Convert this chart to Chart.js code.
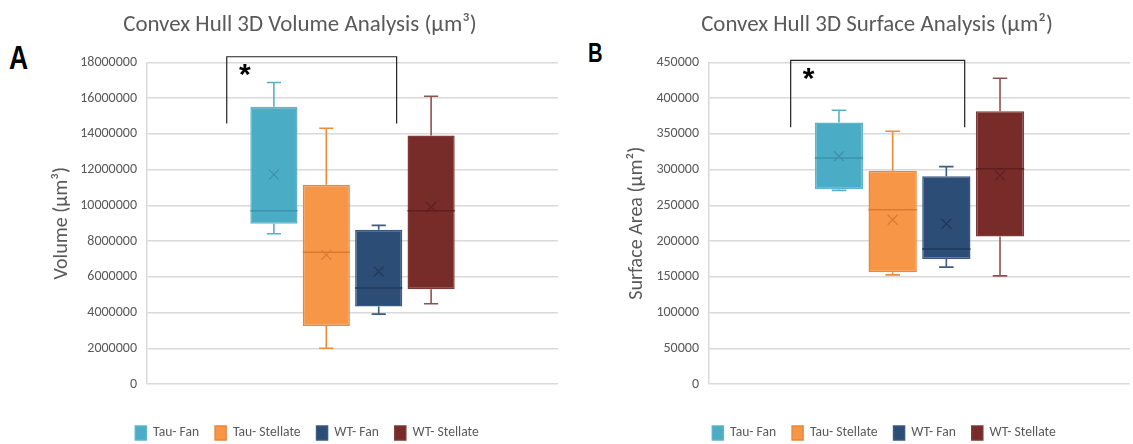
<!DOCTYPE html>
<html>
<head>
<meta charset="utf-8">
<script src="https://cdn.jsdelivr.net/npm/chart.js@4.4.1/dist/chart.umd.min.js"></script>
<style>
  body { margin: 0; background: #fff; width: 1133px; height: 444px; position: relative; overflow: hidden; }
  .panel { position: absolute; top: 0; height: 450px; }
  .tag { position: absolute; font-family: 'Liberation Sans', sans-serif; font-weight: bold; color: #000; line-height: 1; transform-origin: 0 0; }
</style>
</head>
<body>
<div class="tag" style="left:9px; top:40px; font-size:34px; transform:scaleX(0.78);">A</div>
<div class="tag" style="left:588px; top:39px; font-size:28px; transform:scaleX(0.72);">B</div>
<div class="panel" style="left:0; width:600px;"><canvas id="volChart"></canvas></div>
<div class="panel" style="left:580px; width:553px;"><canvas id="surfChart"></canvas></div>
<script>
var groups = ['Tau- Fan', 'Tau- Stellate', 'WT- Fan', 'WT- Stellate'];
var fillColors = ['#4BACC6', '#F79646', '#2C4D75', '#772C2A'];
var edgeColors = ['#5fb4cb', '#e8873a', '#3a5a80', '#7e3a38'];
var whiskerColors = ['#58b1c9', '#ee8a3c', '#3d5c84', '#8d5250'];
var innerColors = ['#3b93ab', '#d97a2f', '#1f3a5c', '#5e201f'];

// Volume (µm³)
var volMin = [8410000, 2000000, 3910000, 4490000];
var volQ1 = [8970000, 3250000, 4340000, 5310000];
var volMedian = [9700000, 7380000, 5370000, 9700000];
var volQ3 = [15520000, 11160000, 8640000, 13910000];
var volMax = [16880000, 14320000, 8880000, 16110000];
var volMean = [11720000, 7230000, 6300000, 9910000];
var volTicks = [0, 2000000, 4000000, 6000000, 8000000, 10000000, 12000000, 14000000, 16000000, 18000000];
var volBracket = { from: 0, to: 2, top: 18320000, drop: 14580000, label: '*' };

// Surface area (µm²)
var surfMin = [271000, 152800, 163600, 151400];
var surfQ1 = [272400, 156500, 174800, 206500];
var surfMedian = [316400, 243900, 188800, 301400];
var surfQ3 = [365900, 298600, 290600, 381700];
var surfMax = [383200, 353700, 304200, 428000];
var surfMean = [318700, 229900, 224300, 291600];
var surfTicks = [0, 50000, 100000, 150000, 200000, 250000, 300000, 350000, 400000, 450000];
var surfBracket = { from: 0, to: 2, top: 453000, drop: 359300, label: '*' };

var calibri = "Carlito, 'Liberation Sans', sans-serif";

function buildDatasets(mins, q1s, meds, q3s, maxs, means) {
    return groups.map(function (name, i) {
        return {
            label: name,
            data: [[q1s[i], q3s[i]]],
            backgroundColor: fillColors[i],
            borderColor: edgeColors[i],
            borderWidth: 1.5,
            borderSkipped: false,
            stat: { min: mins[i], median: meds[i], max: maxs[i], mean: means[i], q1: q1s[i], q3: q3s[i] },
            whiskerColor: whiskerColors[i],
            innerColor: innerColors[i]
        };
    });
}

// whiskers, median, mean marker and the significance bracket
var boxExtras = {
    id: 'boxExtras',
    afterLayout: function (chart, args, opts) {
        if (opts.legendShift) {
            chart.legend.left += opts.legendShift;
            chart.legend.right += opts.legendShift;
        }
    },
    beforeDatasetsDraw: function (chart) {
        var ctx = chart.ctx, y = chart.scales.y;
        chart.data.datasets.forEach(function (ds, i) {
            var bar = chart.getDatasetMeta(i).data[0];
            var cap = bar.width * 0.3;
            ctx.save();
            ctx.strokeStyle = ds.whiskerColor;
            ctx.lineWidth = 1.6;
            ctx.beginPath();
            ctx.moveTo(bar.x, y.getPixelForValue(ds.stat.q3));
            ctx.lineTo(bar.x, y.getPixelForValue(ds.stat.max));
            ctx.moveTo(bar.x - cap / 2, y.getPixelForValue(ds.stat.max));
            ctx.lineTo(bar.x + cap / 2, y.getPixelForValue(ds.stat.max));
            ctx.moveTo(bar.x, y.getPixelForValue(ds.stat.q1));
            ctx.lineTo(bar.x, y.getPixelForValue(ds.stat.min));
            ctx.moveTo(bar.x - cap / 2, y.getPixelForValue(ds.stat.min));
            ctx.lineTo(bar.x + cap / 2, y.getPixelForValue(ds.stat.min));
            ctx.stroke();
            ctx.restore();
        });
    },
    afterDatasetsDraw: function (chart, args, opts) {
        var ctx = chart.ctx, y = chart.scales.y;
        chart.data.datasets.forEach(function (ds, i) {
            var bar = chart.getDatasetMeta(i).data[0];
            var half = bar.width / 2;
            var ym = y.getPixelForValue(ds.stat.median);
            var ya = y.getPixelForValue(ds.stat.mean);
            ctx.save();
            ctx.strokeStyle = ds.innerColor;
            ctx.lineWidth = 1.5;
            ctx.beginPath();
            ctx.moveTo(bar.x - half, ym);
            ctx.lineTo(bar.x + half, ym);
            ctx.stroke();
            ctx.lineWidth = 1.2;
            ctx.beginPath();
            ctx.moveTo(bar.x - 5, ya - 5);
            ctx.lineTo(bar.x + 5, ya + 5);
            ctx.moveTo(bar.x + 5, ya - 5);
            ctx.lineTo(bar.x - 5, ya + 5);
            ctx.stroke();
            ctx.restore();
        });
        var b = opts.bracket;
        if (!b) return;
        var a = chart.getDatasetMeta(b.from).data[0];
        var c = chart.getDatasetMeta(b.to).data[0];
        var xl = a.x - a.width;
        var xr = c.x + c.width * 0.38;
        var yt = y.getPixelForValue(b.top);
        var yd = y.getPixelForValue(b.drop);
        ctx.save();
        ctx.strokeStyle = '#222';
        ctx.lineWidth = 1.2;
        ctx.beginPath();
        ctx.moveTo(xl, yd);
        ctx.lineTo(xl, yt);
        ctx.lineTo(xr, yt);
        ctx.lineTo(xr, yd);
        ctx.stroke();
        ctx.fillStyle = '#000';
        ctx.font = "bold 30px 'Liberation Sans', sans-serif";
        ctx.textAlign = 'center';
        ctx.textBaseline = 'top';
        ctx.fillText(b.label, xl + 18, yt + 4);
        ctx.restore();
    }
};

function makeChart(id, titleText, axisText, datasets, ticks, bracket, pad, axisWidth, legendShift, titlePad) {
    return new Chart(document.getElementById(id), {
        type: 'bar',
        data: { labels: [''], datasets: datasets },
        plugins: [boxExtras],
        options: {
            responsive: true,
            maintainAspectRatio: false,
            animation: false,
            events: [],
            barPercentage: 0.9,
            categoryPercentage: 0.51,
            layout: { padding: pad },
            plugins: {
                title: {
                    display: true,
                    text: titleText,
                    color: '#595959',
                    font: { family: calibri, size: 22.9, weight: 'normal', lineHeight: 1.2 },
                    padding: { top: 12, bottom: 23 }
                },
                legend: {
                    position: 'bottom',
                    labels: {
                        color: '#595959',
                        font: { family: calibri, size: 13.6 },
                        boxWidth: 11,
                        boxHeight: 14,
                        padding: 16
                    }
                },
                tooltip: { enabled: false },
                boxExtras: { bracket: bracket, legendShift: legendShift }
            },
            scales: {
                x: {
                    display: true,
                    ticks: { display: false },
                    grid: { display: false },
                    border: { display: false },
                    afterFit: function (s) { s.height = 26; }
                },
                y: {
                    min: ticks[0],
                    max: ticks[ticks.length - 1],
                    afterBuildTicks: function (s) { s.ticks = ticks.map(function (v) { return { value: v }; }); },
                    ticks: {
                        color: '#595959',
                        font: { family: calibri, size: 14 },
                        padding: 10,
                        callback: function (v) { return String(v); }
                    },
                    grid: { color: '#d9d9d9', lineWidth: 1.5, drawTicks: false },
                    border: { color: '#d9d9d9', width: 1.5 },
                    title: {
                        display: true,
                        text: axisText,
                        color: '#595959',
                        font: { family: calibri, size: 20, lineHeight: 1.2 },
                        padding: { top: titlePad, bottom: 0 }
                    },
                    afterFit: function (s) { s.width = axisWidth; }
                }
            }
        }
    });
}

makeChart('volChart', 'Convex Hull 3D Volume Analysis (µm³)', 'Volume (µm³)',
    buildDatasets(volMin, volQ1, volMedian, volQ3, volMax, volMean), volTicks, volBracket,
    { left: 42, right: 42, top: 0, bottom: 0 }, 105, 7, 8);
makeChart('surfChart', 'Convex Hull 3D Surface Analysis (µm²)', 'Surface Area (µm²)',
    buildDatasets(surfMin, surfQ1, surfMedian, surfQ3, surfMax, surfMean), surfTicks, surfBracket,
    { left: 44, right: 3, top: 0, bottom: 0 }, 85, 7, 1);
</script>
</body>
</html>
